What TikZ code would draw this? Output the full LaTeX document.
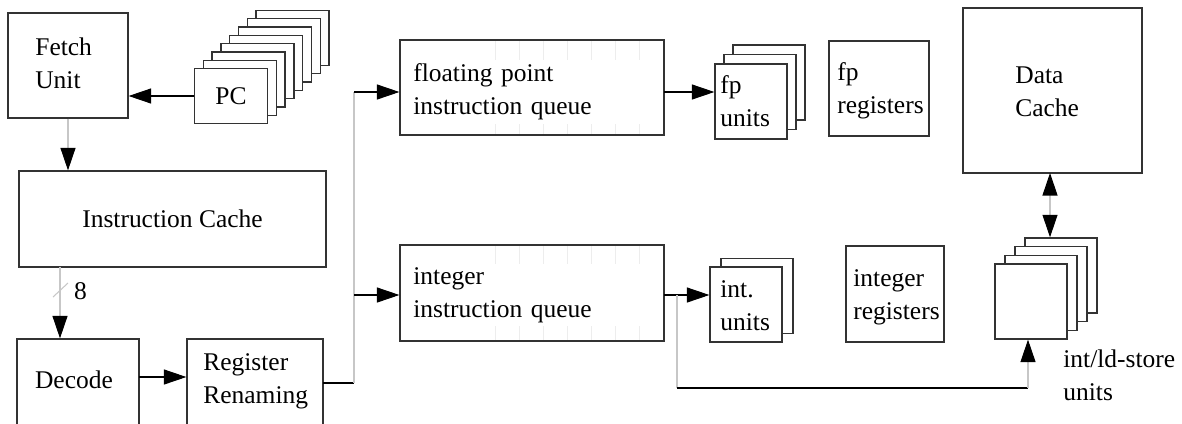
\documentclass[tikz,border=0pt]{standalone}
\usepackage{fontspec}
\setmainfont{Liberation Serif}
\usetikzlibrary{arrows.meta}

\begin{document}
\begin{tikzpicture}[x=0.02cm, y=-0.02cm,
        every node/.style={font=\fontsize{14.5}{18.7}\selectfont},
        unit/.style={draw=black!80, line width=0.7pt, fill=white, inner sep=0pt},
        txt/.style={align=left, inner sep=0pt, anchor=west},
        wire/.style={line width=0.6pt},
        faint/.style={draw=black!22, line width=0.6pt},
        slot/.style={draw=black!7, line width=0.5pt},
        tip/.style={-{Triangle[length=4.5mm, width=3mm, color=black]}},
        tips/.style={{Triangle[length=4.5mm, width=3mm, color=black]}-{Triangle[length=4.5mm, width=3mm, color=black]}}]
        \useasboundingbox (0,0) rectangle (1182,423);

        % front end
        \node[unit, minimum width=2.4cm, minimum height=2.1cm] (fetch) at (68,65.5) {};
        \node[txt] (fetchtxt) at (35,63) {Fetch\\Unit};

        \foreach \k in {7,...,0}
            \node[unit, minimum width=1.46cm, minimum height=1.1cm] (pc\k) at ({231+8.8*\k},{96-8.3*\k}) {};
        \node (pctxt) at (pc0) {PC};

        \node[unit, minimum width=6.14cm, minimum height=1.92cm] (ic) at (172.5,219) {};
        \node (ictxt) at (ic) {Instruction Cache};

        \node[unit, minimum width=2.44cm, minimum height=2.12cm] (decode) at (78,392) {};
        \node (decodetxt) at (74,380) {Decode};

        \node[unit, minimum width=2.72cm, minimum height=2.12cm] (rr) at (255,392) {};
        \node[txt] (rrtxt) at (203,381) {Register\\Renaming};

        % queues
        \node[unit, minimum width=5.28cm, minimum height=1.9cm] (fpq) at (532,87.5) {};
        \node[unit, minimum width=5.28cm, minimum height=1.92cm] (intq) at (532,293) {};
        \foreach \xd in {495,519,...,639} {
            \draw[slot] (\xd,41) -- (\xd,134);
            \draw[slot] (\xd,246) -- (\xd,340);
        }
        \node[txt, fill=white, text width=4.9cm, inner ysep=2pt] (fpqtxt) at (413,92) {floating point\\instruction queue};
        \node[txt, fill=white, text width=4.9cm, inner ysep=2pt] (intqtxt) at (413,295) {integer\\instruction queue};

        % execution units and registers
        \foreach \k in {2,...,0}
            \node[unit, minimum width=1.44cm, minimum height=1.5cm] (fpu\k) at ({751+9*\k},{101.5-9.5*\k}) {};
        \node[txt] (fputxt) at (720,101) {fp\\units};

        \node[unit, minimum width=2cm, minimum height=1.9cm] (fpreg) at (879,88.5) {};
        \node[txt] (fpregtxt) at (837,91) {fp\\registers};

        \node[unit, minimum width=3.58cm, minimum height=3.3cm] (dcache) at (1052.5,90.5) {};
        \node[txt] (dcachetxt) at (1015,92) {Data\\Cache};

        \foreach \k in {1,0}
            \node[unit, minimum width=1.44cm, minimum height=1.5cm] (intu\k) at ({746+11*\k},{304.5-8.5*\k}) {};
        \node[txt] (intutxt) at (720,306) {int.\\units};

        \node[unit, minimum width=1.96cm, minimum height=1.92cm] (intreg) at (895,294) {};
        \node[txt] (intregtxt) at (853,297) {integer\\registers};

        \foreach \k in {3,...,0}
            \node[unit, minimum width=1.44cm, minimum height=1.5cm] (ldst\k) at ({1031+10*\k},{301.5-8.7*\k}) {};
        \node[txt] (ldsttxt) at (1063,375) {int/ld-store\\units};

        % connections
        \draw[wire,tip] (pc0.west) -- (pc0.west -| fetch.east);
        \draw[faint,tip] (fetch.south) -- (ic.north -| fetch.south);

        \coordinate (icout) at (60,267);
        \draw[faint,tip] (icout) -- (icout |- decode.north);
        \draw[faint] (53,297) -- (68,283);
        \node (bus) at (80.5,291.5) {8};

        \coordinate (dec2rr) at (139,377);
        \draw[wire,tip] (dec2rr) -- (dec2rr -| rr.west);

        \coordinate (rrout) at (323,383);
        \coordinate (split) at (354,383);
        \coordinate (splittop) at (354,92);
        \coordinate (splitint) at (354,295);
        \draw[wire] (rrout) -- (split);
        \draw[faint] (split) -- (splittop);
        \draw[wire,tip] (splittop) -- (splittop -| fpq.west);
        \draw[wire,tip] (splitint) -- (splitint -| intq.west);

        \coordinate (fpqout) at (664,92);
        \draw[wire,tip] (fpqout) -- (fpqout -| fpu0.west);
        \coordinate (intqout) at (664,295);
        \draw[wire,tip] (intqout) -- (intqout -| intu0.west);

        \coordinate (br1) at (677,295);
        \coordinate (br2) at (677,388);
        \coordinate (br3) at (1028,388);
        \draw[faint] (br1) -- (br2);
        \draw[wire] (br2) -- (br3);
        \draw[faint,tip] (br3) -- (br3 |- ldst0.south);

        \coordinate (dcout) at (1050,173);
        \draw[faint,tips] (dcout) -- (dcout |- ldst3.north);
    \end{tikzpicture}
\end{document}
